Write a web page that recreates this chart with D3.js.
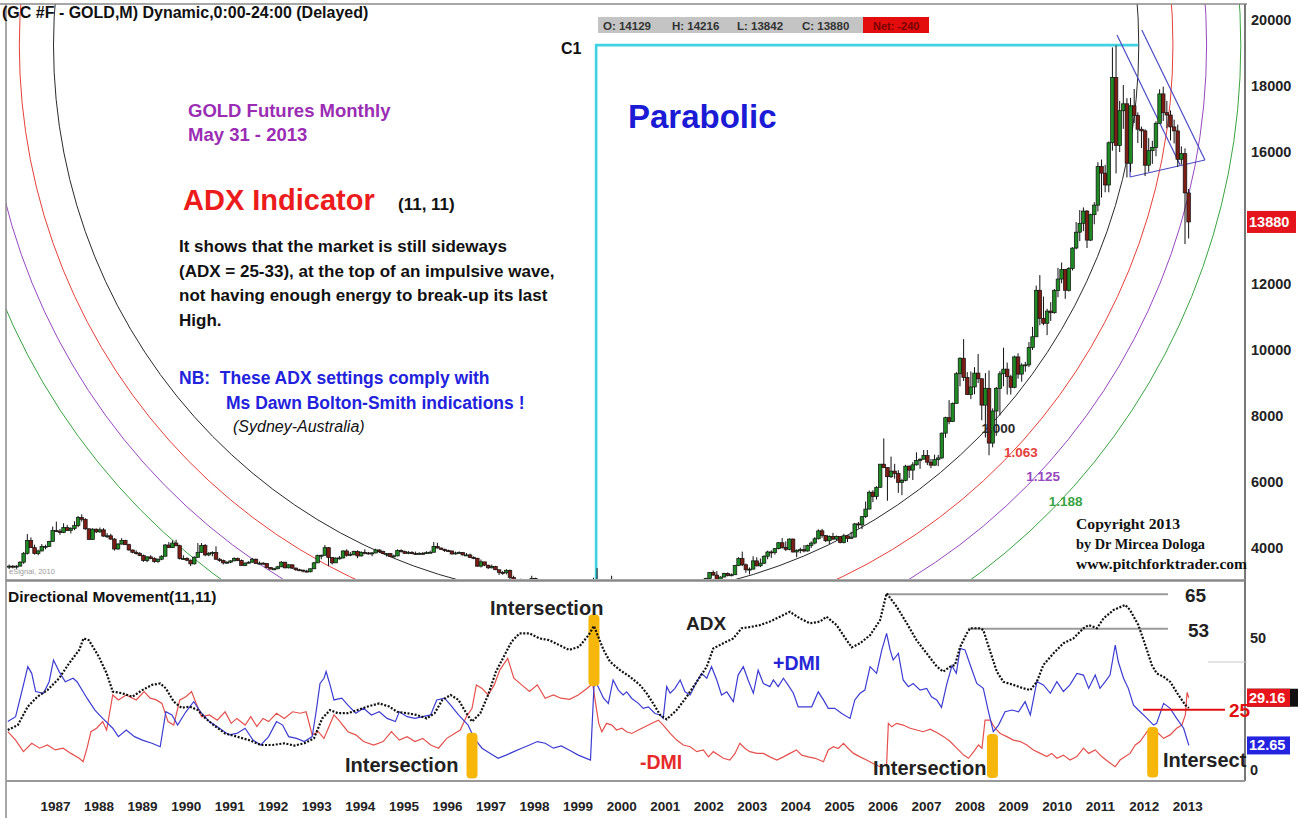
<!DOCTYPE html>
<html>
<head>
<meta charset="utf-8">
<script src="https://cdn.jsdelivr.net/npm/d3@7"></script>
<style>
  body { margin: 0; background: #fff; }
  svg { display: block; font-family: Arial, "Liberation Sans", sans-serif; }
</style>
</head>
<body>
<svg id="chart"></svg>
<script>
// monthly GC bars, first bar = Apr 1986, prices in chart points (13880 = $1388.0)
const firstMonth = [1986, 4];

const opens = [
  3450,3450,3430,3450,3570,3840,4230,4010,3830,
  3910,4050,4050,4200,4530,4510,4470,4620,4530,4590,4680,4920,
  4870,4580,4260,4570,4490,4550,4360,4370,4270,3970,4120,4230,
  4100,3940,3870,3830,3770,3620,3730,3680,3590,3660,3750,4090,
  4010,4150,4070,3680,3680,3630,3520,3720,3870,4080,3790,3840,
  3860,3660,3620,3550,3570,3610,3680,3620,3470,3540,3570,3660,
  3530,3540,3530,3410,3360,3370,3430,3570,3400,3490,3390,3340,
  3330,3300,3280,3370,3550,3770,3780,4010,3710,3550,3690,3700,
  3910,3780,3810,3890,3760,3870,3850,3840,3850,3940,3890,3830,
  3830,3750,3760,3920,3890,3840,3870,3830,3820,3840,3830,3870,
  3870,4050,4000,3960,3920,3910,3820,3850,3860,3790,3790,3710,
  3690,3450,3580,3480,3400,3440,3340,3260,3250,3320,3110,2960,
  2900,3020,2970,3010,3080,2930,2960,2880,2730,2930,2920,2940,
  2880,2870,2870,2790,2860,2680,2610,2550,2550,2990,2990,2910,
  2900,2830,2930,2780,2750,2720,2880,2760,2770,2730,2640,2690,
  2740,2650,2670,2580,2630,2670,2700,2650,2730,2930,2790,2750,
  2790,2820,2970,3010,3080,3260,3180,3040,3120,3230,3170,3190,
  3470,3680,3490,3340,3360,3610,3460,3540,3750,3880,3860,3980,
  4160,4020,3960,4270,3880,3930,3950,3910,4080,4150,4280,4520,
  4380,4220,4350,4270,4350,4170,4370,4290,4330,4730,4700,4950,
  5180,5690,5560,5840,6540,6440,6160,6330,6260,5990,6050,6480,
  6360,6520,6650,6690,6800,6600,6510,6680,6730,7480,7950,7830,
  8380,9280,9750,9170,8650,8880,9300,9130,8330,8840,7180,8150,
  8840,9280,9420,9190,8870,9790,9270,9540,9550,10080,10400,11810,
  10960,10810,11180,11130,11800,12150,12440,11810,12470,13090,13570,13840,
  14210,13330,14100,14390,15560,15360,15000,16280,18260,16200,17250,17460,
  15660,17400,17110,16690,16640,15600,16040,16140,16870,17760,17190,17120,
  16760,16640,15780,15950,14760
];
const highs = [
  3500,3480,3480,3600,3880,4420,4320,4100,3950,
  4120,4100,4220,4650,4800,4580,4750,4700,4630,4810,4970,5020,
  4900,4600,4600,4590,4620,4600,4450,4430,4300,4150,4300,4250,
  4130,3950,3930,3880,3800,3750,3780,3720,3680,3780,4120,4180,
  4230,4250,4100,3780,3720,3650,3750,4150,4150,4120,3880,3900,
  4050,3700,3650,3600,3630,3720,3710,3650,3570,3600,3700,3680,
  3590,3570,3540,3420,3400,3460,3600,3580,3510,3500,3410,3370,
  3340,3340,3380,3580,3800,3800,4090,4030,3720,3720,3760,3930,
  3960,3880,3920,3930,3900,3960,3880,3880,3980,3960,3920,3850,
  3850,3800,3960,3960,3920,3910,3900,3890,3870,3880,3900,3920,
  4180,4160,4010,3980,3950,3920,3890,3900,3880,3850,3830,3750,
  3700,3650,3580,3490,3500,3460,3350,3300,3360,3350,3160,3000,
  3070,3060,3030,3160,3100,2980,2980,2900,3000,3020,3000,2980,
  2940,2910,2910,2910,2910,2690,2640,2600,3100,3390,3020,2920,
  2920,3160,3020,2900,2790,2920,2900,2800,2790,2750,2720,2750,
  2750,2700,2700,2650,2940,2750,2720,2790,2950,2930,2850,2820,
  2850,3000,3040,3100,3270,3320,3300,3140,3250,3260,3230,3490,
  3720,3890,3530,3410,3750,3720,3680,3780,3920,3930,4000,4180,
  4300,4200,4290,4290,3960,4010,4090,4100,4200,4330,4560,4580,
  4380,4380,4460,4380,4360,4430,4380,4490,4760,4790,4970,5410,
  5740,5750,5870,6540,7320,6440,6770,6550,6360,6100,6520,6500,
  6600,6900,6720,6970,6970,6700,6830,6820,7500,7980,8480,8410,
  9330,9780,10330,9330,9350,9480,9880,9130,9300,9380,8230,8880,
  9360,10070,9620,9250,9830,9900,9600,9640,10240,10700,11950,12270,
  11620,11250,11450,11850,12490,12650,12450,12510,13110,13880,14240,14320,
  14240,14130,14480,15690,15770,15610,16320,19170,19230,17550,18030,17630,
  17640,17910,17200,16770,16690,16420,16340,16930,17900,17980,17550,17260,
  16980,16830,16170,16110,14880
];
const lows = [
  3360,3380,3370,3450,3520,3800,4000,3800,3780,
  3900,3960,4030,4190,4480,4400,4450,4520,4440,4540,4630,4800,
  4550,4250,4250,4450,4460,4340,4300,4250,3920,3950,4100,4090,
  3920,3840,3800,3750,3580,3570,3660,3550,3550,3630,3750,4000,
  4000,4050,3650,3650,3600,3450,3500,3700,3850,3750,3750,3750,
  3640,3580,3500,3520,3540,3600,3600,3470,3450,3530,3560,3520,
  3500,3500,3400,3360,3330,3360,3420,3380,3380,3360,3310,3310,
  3260,3260,3260,3360,3540,3660,3770,3450,3500,3550,3650,3680,
  3740,3750,3770,3690,3740,3810,3800,3750,3840,3850,3810,3740,
  3730,3710,3750,3860,3820,3810,3810,3800,3800,3800,3820,3850,
  3870,3980,3940,3880,3880,3800,3800,3840,3770,3770,3700,3660,
  3430,3410,3450,3360,3380,3340,3180,3190,3200,3050,2930,2830,
  2780,2900,2860,3000,2900,2880,2870,2710,2730,2900,2900,2850,
  2830,2840,2770,2780,2670,2570,2530,2520,2540,2960,2880,2800,
  2800,2820,2750,2730,2700,2710,2750,2700,2700,2630,2630,2670,
  2620,2550,2550,2550,2630,2650,2640,2640,2710,2750,2720,2710,
  2770,2800,2890,2990,3070,3160,3020,3010,3110,3140,3140,3180,
  3450,3450,3250,3200,3350,3440,3420,3510,3660,3700,3800,3960,
  3980,3910,3930,3860,3720,3840,3870,3890,4000,4110,4260,4310,
  4180,4120,4240,4230,4140,4140,4180,4280,4330,4590,4570,4910,
  5170,5390,5470,5830,6420,5430,6120,6100,5670,5600,6020,6120,
  6060,6500,6400,6690,6510,6420,6500,6480,6700,7340,7750,7820,
  8380,8900,9060,8640,8510,8660,9000,7870,7350,6810,7050,7400,
  8020,8900,8650,8650,8840,9130,9040,9340,9480,10000,10400,10750,
  10750,10450,10880,11100,11600,12020,11550,11770,12410,13050,13300,13600,
  13090,13300,13810,14200,14620,14780,14780,16040,15350,16000,16700,15230,
  15400,16880,16270,16120,15270,15400,15640,15870,16870,16940,16720,16350,
  16260,15550,15620,13210,13380
];
const closes = [
  3450,3430,3450,3570,3840,4230,4010,3830,3910,
  4050,4050,4200,4530,4510,4470,4620,4530,4590,4680,4920,4870,
  4580,4260,4570,4490,4550,4360,4370,4270,3970,4120,4230,4100,
  3940,3870,3830,3770,3620,3730,3680,3590,3660,3750,4090,4010,
  4150,4070,3680,3680,3630,3520,3720,3870,4080,3790,3840,3860,
  3660,3620,3550,3570,3610,3680,3620,3470,3540,3570,3660,3530,
  3540,3530,3410,3360,3370,3430,3570,3400,3490,3390,3340,3330,
  3300,3280,3370,3550,3770,3780,4010,3710,3550,3690,3700,3910,
  3780,3810,3890,3760,3870,3850,3840,3850,3940,3890,3830,3830,
  3750,3760,3920,3890,3840,3870,3830,3820,3840,3830,3870,3870,
  4050,4000,3960,3920,3910,3820,3850,3860,3790,3790,3710,3690,
  3450,3580,3480,3400,3440,3340,3260,3250,3320,3110,2960,2900,
  3020,2970,3010,3080,2930,2960,2880,2730,2930,2920,2940,2880,
  2870,2870,2790,2860,2680,2610,2550,2550,2990,2990,2910,2900,
  2830,2930,2780,2750,2720,2880,2760,2770,2730,2640,2690,2740,
  2650,2670,2580,2630,2670,2700,2650,2730,2930,2790,2750,2790,
  2820,2970,3010,3080,3260,3180,3040,3120,3230,3170,3190,3470,
  3680,3490,3340,3360,3610,3460,3540,3750,3880,3860,3980,4160,
  4020,3960,4270,3880,3930,3950,3910,4080,4150,4280,4520,4380,
  4220,4350,4270,4350,4170,4370,4290,4330,4730,4700,4950,5180,
  5690,5560,5840,6540,6440,6160,6330,6260,5990,6050,6480,6360,
  6520,6650,6690,6800,6600,6510,6680,6730,7480,7950,7830,8380,
  9280,9750,9170,8650,8880,9300,9130,8330,8840,7180,8150,8840,
  9280,9420,9190,8870,9790,9270,9540,9550,10080,10400,11810,10960,
  10810,11180,11130,11800,12150,12440,11810,12470,13090,13570,13840,14210,
  13330,14100,14390,15560,15360,15000,16280,18260,16200,17250,17460,15660,
  17400,17110,16690,16640,15600,16040,16140,16870,17760,17190,17120,16760,
  16640,15780,15950,14760,13880
];

// Directional Movement (11,11), [decimal year, value]
const adx = [
  [1986.26,18.0],[1986.49,19.7],[1986.72,26.1],[1986.94,29.5],[1987.17,31.8],[1987.44,35.9],
  [1987.67,41.1],[1987.90,45.7],[1988.00,49.7],[1988.12,49.1],[1988.35,43.4],[1988.53,37.6],
  [1988.67,31.3],[1988.89,30.7],[1989.12,29.5],[1989.35,31.8],[1989.57,33.6],[1989.76,34.1],
  [1989.89,32.4],[1990.07,27.8],[1990.25,25.7],[1990.44,26.1],[1990.62,24.9],[1990.80,22.0],
  [1991.03,19.2],[1991.25,16.8],[1991.52,15.7],[1991.80,14.5],[1992.07,12.8],[1992.34,12.8],
  [1992.61,13.4],[1992.84,12.6],[1993.07,13.4],[1993.29,15.1],[1993.48,22.0],[1993.66,24.9],
  [1993.84,23.8],[1994.07,23.8],[1994.29,24.9],[1994.52,26.1],[1994.79,27.2],[1995.02,26.1],
  [1995.20,24.3],[1995.43,23.8],[1995.65,23.2],[1995.88,22.0],[1996.06,23.8],[1996.24,28.4],
  [1996.43,30.1],[1996.61,28.4],[1996.79,23.8],[1996.92,20.9],[1997.11,23.8],[1997.29,30.1],
  [1997.47,38.2],[1997.65,43.4],[1997.83,48.6],[1998.01,51.4],[1998.24,51.4],[1998.47,49.7],
  [1998.69,49.1],[1998.92,47.4],[1999.15,45.7],[1999.38,46.8],[1999.60,50.9],[1999.72,54.0],
  [1999.94,45.7],[2000.09,41.6],[2000.32,38.7],[2000.55,36.4],[2000.78,33.5],[2000.93,30.7],
  [2001.08,27.2],[2001.24,23.2],[2001.39,21.7],[2001.62,24.9],[2001.85,29.5],[2002.08,34.7],
  [2002.31,39.9],[2002.46,46.2],[2002.69,48.0],[2002.92,49.7],[2003.11,53.2],[2003.34,53.7],
  [2003.53,54.3],[2003.76,55.5],[2003.99,57.2],[2004.22,58.9],[2004.45,56.6],[2004.68,54.9],
  [2004.91,55.5],[2005.06,57.2],[2005.29,54.3],[2005.52,49.1],[2005.64,46.6],[2005.83,48.0],
  [2006.06,50.8],[2006.29,56.0],[2006.44,65.3],[2006.67,60.7],[2006.90,55.0],[2007.13,49.0],
  [2007.36,44.5],[2007.59,40.0],[2007.74,38.2],[2007.90,39.9],[2008.01,40.5],[2008.13,46.8],
  [2008.28,51.4],[2008.36,53.2],[2008.59,53.2],[2008.66,52.6],[2008.82,45.1],[2008.97,38.2],
  [2009.12,34.7],[2009.35,33.6],[2009.58,32.4],[2009.74,31.8],[2009.89,34.7],[2010.04,40.5],
  [2010.27,44.5],[2010.50,48.0],[2010.73,49.7],[2010.96,53.2],[2011.08,54.3],[2011.27,53.2],
  [2011.42,56.6],[2011.65,59.5],[2011.92,61.3],[2012.03,59.5],[2012.22,54.3],[2012.38,47.4],
  [2012.53,40.5],[2012.64,37.6],[2012.80,36.4],[2012.95,34.7],[2013.14,30.1],[2013.30,26.6],
  [2013.38,25.6]
];
const plusDmi = [
  [1986.26,20.9],[1986.44,22.6],[1986.62,33.6],[1986.72,39.9],[1986.81,37.6],[1986.90,31.3],
  [1987.08,30.7],[1987.21,34.7],[1987.31,42.2],[1987.44,38.2],[1987.58,34.7],[1987.76,35.9],
  [1987.85,34.7],[1988.08,29.0],[1988.26,24.9],[1988.44,22.0],[1988.67,18.6],[1988.80,15.7],
  [1988.98,18.0],[1989.17,15.7],[1989.35,14.5],[1989.57,13.4],[1989.76,12.2],[1989.89,24.3],
  [1990.03,23.2],[1990.16,19.7],[1990.35,24.3],[1990.53,27.8],[1990.71,23.8],[1990.89,20.9],
  [1991.12,18.6],[1991.34,16.3],[1991.52,16.8],[1991.71,18.6],[1991.89,14.5],[1992.07,12.8],
  [1992.25,15.7],[1992.43,20.9],[1992.57,19.7],[1992.71,15.7],[1992.89,15.1],[1993.07,14.0],
  [1993.25,15.7],[1993.34,24.3],[1993.43,34.1],[1993.52,35.9],[1993.57,38.2],[1993.66,33.6],
  [1993.75,28.4],[1993.93,29.0],[1994.07,26.6],[1994.25,23.8],[1994.43,25.5],[1994.61,23.2],
  [1994.79,24.3],[1994.97,22.0],[1995.16,20.9],[1995.25,24.3],[1995.43,22.6],[1995.61,22.0],
  [1995.79,22.6],[1995.97,23.2],[1996.11,28.4],[1996.29,29.0],[1996.43,26.6],[1996.61,23.2],
  [1996.83,19.7],[1996.97,15.1],[1997.15,11.7],[1997.34,9.9],[1997.52,8.2],[1997.70,9.3],
  [1997.88,10.5],[1998.06,11.7],[1998.24,12.8],[1998.42,14.0],[1998.60,13.4],[1998.79,11.7],
  [1998.97,12.5],[1999.16,11.0],[1999.36,9.3],[1999.64,7.6],[1999.72,33.0],[1999.78,34.1],
  [1999.94,29.0],[2000.05,27.2],[2000.16,35.3],[2000.28,31.8],[2000.39,30.1],[2000.47,31.2],
  [2000.59,28.9],[2000.74,27.2],[2000.85,25.5],[2000.97,26.0],[2001.12,23.7],[2001.24,23.2],
  [2001.31,22.0],[2001.39,33.0],[2001.47,30.7],[2001.58,32.4],[2001.70,35.3],[2001.81,31.2],
  [2001.93,30.1],[2002.08,34.7],[2002.19,37.6],[2002.31,35.9],[2002.42,39.9],[2002.54,35.3],
  [2002.65,30.1],[2002.77,31.2],[2002.92,27.8],[2003.03,37.0],[2003.15,39.9],[2003.26,35.3],
  [2003.38,30.7],[2003.49,38.7],[2003.61,34.1],[2003.76,33.0],[2003.84,35.3],[2003.95,33.0],
  [2004.07,35.9],[2004.18,33.5],[2004.30,30.7],[2004.41,26.0],[2004.57,26.0],[2004.72,26.0],
  [2004.87,31.2],[2004.99,28.4],[2005.10,25.5],[2005.25,25.5],[2005.41,23.7],[2005.60,22.0],
  [2005.71,28.4],[2005.83,30.7],[2005.94,31.8],[2006.06,39.9],[2006.21,37.6],[2006.33,45.7],
  [2006.44,51.4],[2006.52,45.7],[2006.59,42.2],[2006.71,44.5],[2006.82,35.3],[2006.94,33.0],
  [2007.05,34.1],[2007.21,31.8],[2007.36,32.4],[2007.47,29.5],[2007.59,28.4],[2007.70,25.8],
  [2007.82,33.8],[2007.94,40.2],[2008.04,37.6],[2008.13,46.2],[2008.24,45.7],[2008.36,40.5],
  [2008.51,34.1],[2008.66,32.4],[2008.78,24.3],[2008.89,17.4],[2009.01,19.7],[2009.16,24.3],
  [2009.32,24.9],[2009.47,24.3],[2009.62,27.8],[2009.74,23.2],[2009.89,34.7],[2010.04,33.6],
  [2010.20,30.7],[2010.35,34.7],[2010.50,31.3],[2010.65,33.6],[2010.81,37.6],[2010.96,37.0],
  [2011.08,32.4],[2011.23,37.0],[2011.34,32.4],[2011.46,34.7],[2011.57,37.0],[2011.69,47.4],
  [2011.76,41.6],[2011.88,35.9],[2011.99,32.4],[2012.11,26.6],[2012.22,24.9],[2012.38,22.6],
  [2012.57,19.7],[2012.64,20.3],[2012.80,27.2],[2012.95,25.5],[2013.10,22.0],[2013.26,18.6],
  [2013.38,12.65]
];
const minusDmi = [
  [1986.26,17.4],[1986.44,14.5],[1986.62,10.5],[1986.81,13.4],[1986.99,11.7],[1987.17,12.8],
  [1987.35,11.1],[1987.53,11.7],[1987.71,9.9],[1987.90,8.2],[1987.99,7.0],[1988.08,11.7],
  [1988.17,17.4],[1988.30,18.6],[1988.44,20.9],[1988.53,18.0],[1988.67,30.1],[1988.80,28.4],
  [1988.98,30.1],[1989.21,28.4],[1989.39,31.3],[1989.53,29.0],[1989.67,28.4],[1989.80,27.2],
  [1989.94,20.9],[1990.07,19.7],[1990.21,28.4],[1990.35,29.5],[1990.48,31.3],[1990.57,27.8],
  [1990.71,22.6],[1990.89,23.2],[1991.07,21.4],[1991.25,24.3],[1991.39,20.3],[1991.52,22.0],
  [1991.71,19.7],[1991.84,22.6],[1991.98,19.2],[1992.12,22.0],[1992.25,20.9],[1992.43,23.8],
  [1992.61,22.0],[1992.80,24.3],[1992.98,23.8],[1993.11,24.3],[1993.25,16.3],[1993.39,17.4],
  [1993.52,15.1],[1993.75,23.2],[1993.89,20.9],[1994.07,17.4],[1994.25,16.3],[1994.43,14.0],
  [1994.66,12.8],[1994.88,14.0],[1995.07,17.4],[1995.25,14.5],[1995.43,15.7],[1995.61,14.0],
  [1995.79,15.1],[1995.97,12.8],[1996.15,11.7],[1996.34,15.1],[1996.52,16.8],[1996.65,18.0],
  [1996.79,22.6],[1996.92,25.5],[1997.02,33.6],[1997.15,32.4],[1997.29,30.1],[1997.43,33.6],
  [1997.56,38.8],[1997.74,42.8],[1997.88,35.9],[1998.06,33.6],[1998.24,31.3],[1998.42,33.6],
  [1998.60,29.0],[1998.79,30.1],[1998.96,29.0],[1999.16,28.6],[1999.36,30.1],[1999.53,32.0],
  [1999.69,34.0],[1999.77,26.0],[1999.83,20.3],[1999.90,17.4],[2000.01,20.3],[2000.13,19.7],
  [2000.24,18.0],[2000.36,18.6],[2000.47,17.4],[2000.59,16.8],[2000.74,18.0],[2000.89,19.1],
  [2001.05,20.3],[2001.20,21.4],[2001.31,19.7],[2001.47,16.8],[2001.62,14.5],[2001.77,12.8],
  [2001.93,12.2],[2002.08,10.5],[2002.23,11.1],[2002.35,8.7],[2002.46,10.5],[2002.58,9.3],
  [2002.69,8.2],[2002.84,7.6],[2002.96,9.9],[2003.07,13.4],[2003.19,11.6],[2003.30,10.5],
  [2003.46,9.9],[2003.61,9.9],[2003.76,8.7],[2003.92,7.6],[2004.07,8.7],[2004.22,9.9],
  [2004.37,11.1],[2004.49,9.3],[2004.64,8.7],[2004.80,8.2],[2004.99,7.0],[2005.10,11.1],
  [2005.22,12.2],[2005.33,11.6],[2005.45,13.4],[2005.56,11.6],[2005.68,9.9],[2005.83,8.7],
  [2005.98,7.6],[2006.13,6.4],[2006.29,5.3],[2006.44,5.9],[2006.48,20.3],[2006.56,19.1],
  [2006.67,20.3],[2006.82,19.7],[2006.98,18.6],[2007.13,18.0],[2007.28,17.4],[2007.44,18.3],
  [2007.59,17.1],[2007.75,15.7],[2007.90,14.0],[2008.05,11.7],[2008.21,9.3],[2008.32,8.2],
  [2008.44,10.5],[2008.55,12.8],[2008.63,11.7],[2008.70,21.4],[2008.82,21.4],[2008.93,18.6],
  [2009.05,16.8],[2009.20,15.7],[2009.35,14.5],[2009.51,14.0],[2009.66,12.8],[2009.81,11.1],
  [2009.97,9.9],[2010.12,8.8],[2010.23,9.9],[2010.35,8.2],[2010.50,9.3],[2010.65,7.6],
  [2010.81,8.8],[2010.96,11.7],[2011.08,9.9],[2011.23,11.1],[2011.38,8.8],[2011.53,7.0],
  [2011.69,5.3],[2011.80,7.6],[2011.92,8.8],[2012.03,9.9],[2012.15,12.8],[2012.26,14.0],
  [2012.42,17.4],[2012.53,18.6],[2012.64,17.4],[2012.80,15.1],[2012.95,16.3],[2013.10,18.6],
  [2013.22,19.7],[2013.30,23.2],[2013.34,31.0],[2013.38,29.16]
];

// tick labels (14000 is hidden behind the last-price flag in the original)
const years = [1987,1988,1989,1990,1991,1992,1993,1994,1995,1996,1997,1998,1999,2000,
               2001,2002,2003,2004,2005,2006,2007,2008,2009,2010,2011,2012,2013];
const priceTicks = [4000, 6000, 8000, 10000, 12000, 16000, 18000, 20000];
const dmiTicks = [0, 50];

// drawing tools on the price panel
const c1 = { date: 1999.77, price: 19240, endDate: 2012.21 };
const arcRadius = { years: 12.46, price: 16760 };
const arcRatios = [1.000, 1.063, 1.125, 1.188];
const arcLabels = ['1.000', '1.063', '1.125', '1.188'];
const triangle = [
  [2011.73, 19545, 2013.18, 15606],
  [2012.30, 19697, 2013.75, 15758],
  [2012.03, 15242, 2013.75, 15758],
  [2012.03, 16212, 2012.03, 15242]
];

// lower panel markers
const levels = [
  { value: 65, from: 2006.44, to: 2012.90, label: '65' },
  { value: 53, from: 2008.31, to: 2012.90, label: '53' }
];
const redLevel = { value: 25, from: 2012.33, to: 2014.21 };
const intersections = [
  { date: 1996.92, top: 17.0, bottom: 1.2 },
  { date: 1999.72, top: 58.0, bottom: 33.2 },
  { date: 2008.87, top: 16.6, bottom: 1.4 },
  { date: 2012.55, top: 19.0, bottom: 1.6 }
];
const lastValues = { minus: '29.16', plus: '12.65', close: '13880' };


class GoldChart {

    constructor( config ) {
        this.config = {
            parent: config.parent,
            width: config.width || 1306,
            height: config.height || 818,
            left: 6,
            right: 1245,
            priceTop: 4,
            priceBottom: 579,
            dmiTop: 582,
            dmiBottom: 780
        };
        this.init();
    }

    init() {
        let self = this;
        const c = self.config;

        self.svg = d3.select( c.parent )
            .attr('width', c.width)
            .attr('height', c.height);

        self.x = d3.scaleLinear().domain([1987, 2013]).range([40, 1172.3]);
        self.yPrice = d3.scaleLinear().domain([4000, 20000]).range([548, 20]);
        self.yDmi = d3.scaleLinear().domain([0, 50]).range([782, 637.5]);

        const defs = self.svg.append('defs');
        defs.append('clipPath').attr('id', 'clip-price')
            .append('rect')
            .attr('x', c.left).attr('y', c.priceTop)
            .attr('width', c.right - c.left).attr('height', c.priceBottom - c.priceTop);
        defs.append('clipPath').attr('id', 'clip-dmi')
            .append('rect')
            .attr('x', c.left).attr('y', c.dmiTop)
            .attr('width', c.right - c.left).attr('height', c.dmiBottom - c.dmiTop);

        self.svg.append('rect')
            .attr('width', c.width).attr('height', c.height)
            .attr('fill', '#fff');

        self.pricePanel = self.svg.append('g').attr('clip-path', 'url(#clip-price)');
        self.dmiPanel = self.svg.append('g').attr('clip-path', 'url(#clip-dmi)');
        self.overlay = self.svg.append('g');
    }

    render() {
        let self = this;
        self.renderFrame();
        self.renderArcs();
        self.renderCandles();
        self.renderNotes();
        self.renderDmi();
        self.renderAxes();
    }

    text(g, x, y, s, size, color) {
        return g.append('text')
            .attr('x', x).attr('y', y)
            .style('font-size', size + 'px')
            .style('font-weight', 'bold')
            .style('white-space', 'pre')
            .attr('fill', color)
            .text(s);
    }

    renderFrame() {
        let self = this;
        const c = self.config;
        const g = self.overlay;

        g.append('line').attr('x1', 0).attr('x2', c.right + 2)
            .attr('y1', c.priceTop).attr('y2', c.priceTop)
            .attr('stroke', '#8a8a8a').attr('stroke-width', 1.5);
        g.append('line').attr('x1', c.left).attr('x2', c.left)
            .attr('y1', c.priceTop).attr('y2', c.height)
            .attr('stroke', '#8a8a8a').attr('stroke-width', 1.5);
        g.append('line').attr('x1', c.right).attr('x2', c.right)
            .attr('y1', c.priceTop).attr('y2', c.dmiBottom + 1)
            .attr('stroke', '#777').attr('stroke-width', 2);
        g.append('line').attr('x1', c.left).attr('x2', c.right)
            .attr('y1', 580.5).attr('y2', 580.5)
            .attr('stroke', '#888').attr('stroke-width', 2.5);
        g.append('line').attr('x1', c.left).attr('x2', c.right)
            .attr('y1', c.dmiBottom + 1).attr('y2', c.dmiBottom + 1)
            .attr('stroke', '#999').attr('stroke-width', 2);
    }

    renderArcs() {
        let self = this;
        const colors = ['#2a2a2a', '#e5403a', '#9548c0', '#3aa341'];
        const cx = self.x(c1.date);
        const cy = self.yPrice(c1.price);

        arcRatios.forEach((r, i) => {
            const rx = self.x(c1.date + arcRadius.years * r) - cx;
            const ry = self.yPrice(c1.price - arcRadius.price * r) - cy;
            self.pricePanel.append('ellipse')
                .attr('cx', cx).attr('cy', cy)
                .attr('rx', rx).attr('ry', ry)
                .attr('fill', 'none')
                .attr('stroke', colors[i])
                .attr('stroke-width', 1);

            const a = 44 * Math.PI / 180;
            self.text(self.overlay, cx + rx * Math.cos(a) - 5 - 2 * i, cy + ry * Math.sin(a) + 4,
                arcLabels[i], 13.5, colors[i]);
        });

        // C1 cyan lines
        self.pricePanel.append('path')
            .attr('d', `M${self.x(c1.date)},${self.config.priceBottom}` +
                       `V${self.yPrice(c1.price)}H${self.x(c1.endDate)}`)
            .attr('fill', 'none')
            .attr('stroke', '#3fd2e2')
            .attr('stroke-width', 2.6);

        self.pricePanel.selectAll('.tri')
            .data(triangle)
            .enter()
            .append('line')
            .attr('x1', d => self.x(d[0])).attr('y1', d => self.yPrice(d[1]))
            .attr('x2', d => self.x(d[2])).attr('y2', d => self.yPrice(d[3]))
            .attr('stroke', '#4b4bc4')
            .attr('stroke-width', 1.2);
    }

    renderCandles() {
        let self = this;
        const bars = closes.map((cl, i) => ({
            date: firstMonth[0] + (firstMonth[1] - 1 + i + 0.5) / 12,
            o: opens[i], h: highs[i], l: lows[i], c: cl
        }));
        const w = 3.6;

        const g = self.pricePanel.selectAll('.bar')
            .data(bars)
            .enter()
            .append('g')
            .attr('class', 'bar');

        g.append('line')
            .attr('x1', d => self.x(d.date)).attr('x2', d => self.x(d.date))
            .attr('y1', d => self.yPrice(d.h)).attr('y2', d => self.yPrice(d.l))
            .attr('stroke', '#111')
            .attr('stroke-width', 1);

        g.append('rect')
            .attr('x', d => self.x(d.date) - w / 2)
            .attr('y', d => self.yPrice(Math.max(d.o, d.c)))
            .attr('width', w)
            .attr('height', d => Math.max(1, Math.abs(self.yPrice(d.o) - self.yPrice(d.c))))
            .attr('fill', d => d.c >= d.o ? '#1f8a24' : '#7d1d16')
            .attr('stroke', '#111')
            .attr('stroke-width', 0.7);
    }

    renderNotes() {
        let self = this;
        const g = self.overlay;
        const txt = (x, y, s, size, color) => self.text(g, x, y, s, size, color);

        txt(2, 18, '(GC #F - GOLD,M) Dynamic,0:00-24:00 (Delayed)', 16, '#111');

        // OHLC strip
        g.append('rect').attr('x', 598).attr('y', 17).attr('width', 265).attr('height', 16)
            .attr('fill', '#c4c4c4');
        g.append('rect').attr('x', 863).attr('y', 17).attr('width', 66).attr('height', 16)
            .attr('fill', '#e30d0d');
        txt(603, 29.5, 'O: 14129', 11.5, '#333');
        txt(672, 29.5, 'H: 14216', 11.5, '#333');
        txt(737, 29.5, 'L: 13842', 11.5, '#333');
        txt(802, 29.5, 'C: 13880', 11.5, '#333');
        txt(873, 29.5, 'Net: -240', 11, '#7a0000');

        txt(561, 54, 'C1', 16, '#111');
        txt(628, 128, 'Parabolic', 33, '#1b1bd6');

        txt(188, 117, 'GOLD Futures Monthly', 18.5, '#9a2db4');
        txt(188, 141, 'May 31 - 2013', 18.5, '#9a2db4');
        txt(183, 210, 'ADX Indicator', 29, '#ec1c1c');
        txt(398, 210, '(11, 11)', 17, '#111');

        const para = [
            'It shows that the market is still sideways',
            '(ADX = 25-33), at the top of an impulsive wave,',
            'not having enough energy to break-up its last',
            'High.'
        ];
        para.forEach((s, i) => txt(179, 252 + i * 24.5, s, 17, '#111'));

        txt(179, 384, 'NB:  These ADX settings comply with', 17.5, '#2222dd');
        txt(226, 409, 'Ms Dawn Bolton-Smith indications !', 17.5, '#2222dd');
        txt(233, 432, '(Sydney-Australia)', 16, '#111')
            .style('font-style', 'italic').style('font-weight', 'normal');

        const copy = ['Copyright 2013', 'by Dr Mircea Dologa', 'www.pitchforktrader.com'];
        const copyLen = [104, 129, 171];
        copy.forEach((s, i) => txt(1076, 529 + i * 20, s, 14.5, '#111')
            .style('font-family', '"Liberation Serif", "Times New Roman", serif')
            .attr('textLength', copyLen[i])
            .attr('lengthAdjust', 'spacingAndGlyphs'));

        txt(9, 574, 'eSignal, 2010', 7.5, '#9a9a9a').style('font-weight', 'normal');
    }

    renderDmi() {
        let self = this;
        const g = self.dmiPanel;
        const line = d3.line().x(d => self.x(d[0])).y(d => self.yDmi(d[1]));

        levels.forEach(l => {
            g.append('line')
                .attr('x1', self.x(l.from)).attr('x2', self.x(l.to))
                .attr('y1', self.yDmi(l.value)).attr('y2', self.yDmi(l.value))
                .attr('stroke', '#9a9a9a').attr('stroke-width', 2);
        });

        g.append('path').datum(minusDmi)
            .attr('d', line).attr('fill', 'none')
            .attr('stroke', '#e4504c').attr('stroke-width', 1.2);
        g.append('path').datum(plusDmi)
            .attr('d', line).attr('fill', 'none')
            .attr('stroke', '#3c3cd2').attr('stroke-width', 1.2);

        g.selectAll('.cross')
            .data(intersections)
            .enter()
            .append('rect')
            .attr('x', d => self.x(d.date) - 5.5)
            .attr('y', d => self.yDmi(d.top))
            .attr('width', 11)
            .attr('height', d => self.yDmi(d.bottom) - self.yDmi(d.top))
            .attr('rx', 4)
            .attr('fill', '#f6b70a');

        g.append('path').datum(adx)
            .attr('d', line).attr('fill', 'none')
            .attr('stroke', '#111').attr('stroke-width', 2.2)
            .attr('stroke-dasharray', '2 1.6');

        self.overlay.append('line')
            .attr('x1', self.x(redLevel.from)).attr('x2', self.x(redLevel.to))
            .attr('y1', self.yDmi(redLevel.value)).attr('y2', self.yDmi(redLevel.value))
            .attr('stroke', '#e01010').attr('stroke-width', 2);
        self.overlay.append('line')
            .attr('x1', 1208).attr('x2', 1247)
            .attr('y1', 662).attr('y2', 662)
            .attr('stroke', '#c8c8c8').attr('stroke-width', 1);

        const txt = (x, y, s, size, color) => self.text(self.overlay, x, y, s, size, color);

        txt(8, 602, 'Directional Movement(11,11)', 15.5, '#111');
        txt(490, 615, 'Intersection', 20, '#222');
        txt(345, 772, 'Intersection', 20, '#222');
        txt(873, 775, 'Intersection', 20, '#222');
        txt(1163, 767, 'Intersect', 20, '#222');
        txt(686, 630, 'ADX', 19, '#222');
        txt(773, 670, '+DMI', 19.5, '#2626d6');
        txt(640, 769, '-DMI', 19.5, '#e62a2a');
        levels.forEach(l => txt(l.value === 65 ? 1185 : 1188, self.yDmi(l.value) + 8, l.label, 19, '#222'));
        txt(1229, self.yDmi(redLevel.value) + 7, '25', 19, '#e01010');
    }

    renderAxes() {
        let self = this;
        const c = self.config;

        const priceAxis = self.svg.append('g')
            .attr('transform', `translate(${c.right}, 0)`)
            .call(d3.axisRight(self.yPrice).tickValues(priceTicks).tickSize(0).tickPadding(6).tickFormat(d3.format('d')));
        priceAxis.select('.domain').remove();
        priceAxis.selectAll('text')
            .style('font-size', '14.5px').style('font-weight', 'bold')
            .style('font-family', 'Arial, "Liberation Sans", sans-serif')
            .attr('fill', '#222');

        const dmiAxis = self.svg.append('g')
            .attr('transform', `translate(${c.right}, 0)`)
            .call(d3.axisRight(self.yDmi).tickValues(dmiTicks).tickSize(0).tickPadding(5));
        dmiAxis.select('.domain').remove();
        dmiAxis.selectAll('text')
            .style('font-size', '14.5px').style('font-weight', 'bold')
            .style('font-family', 'Arial, "Liberation Sans", sans-serif')
            .attr('fill', '#222')
            .attr('dy', d => d === 0 ? '-0.55em' : '0.32em');

        const xAxis = self.svg.append('g')
            .attr('transform', 'translate(0, 799)')
            .call(d3.axisBottom(self.x).tickValues(years).tickSize(0).tickPadding(0).tickFormat(d3.format('d')));
        xAxis.select('.domain').remove();
        xAxis.selectAll('text')
            .attr('text-anchor', 'start')
            .attr('dy', '0.9em')
            .style('font-size', '13.5px').style('font-weight', 'bold')
            .style('font-family', 'Arial, "Liberation Sans", sans-serif')
            .attr('fill', '#222');

        // last value flags
        const flag = (y, w, h, fill, s) => {
            self.svg.append('rect').attr('x', c.right + 2).attr('y', y - h / 2)
                .attr('width', w).attr('height', h).attr('fill', fill);
            self.svg.append('text').attr('x', c.right + 4).attr('y', y + 5)
                .style('font-size', '14.5px').style('font-weight', 'bold')
                .attr('fill', '#fff').text(s);
        };
        flag(self.yPrice(+lastValues.close), 49, 22, '#e5141c', lastValues.close);
        self.svg.append('rect').attr('x', c.right + 2).attr('y', self.yDmi(+lastValues.minus) - 9)
            .attr('width', 51).attr('height', 18).attr('fill', '#111');
        flag(self.yDmi(+lastValues.minus), 43, 18, '#e8141c', lastValues.minus);
        flag(self.yDmi(+lastValues.plus), 43, 18, '#2424e0', lastValues.plus);
    }
}

let chart = new GoldChart({ parent: '#chart', width: 1306, height: 818 });
chart.render();
</script>
</body>
</html>
